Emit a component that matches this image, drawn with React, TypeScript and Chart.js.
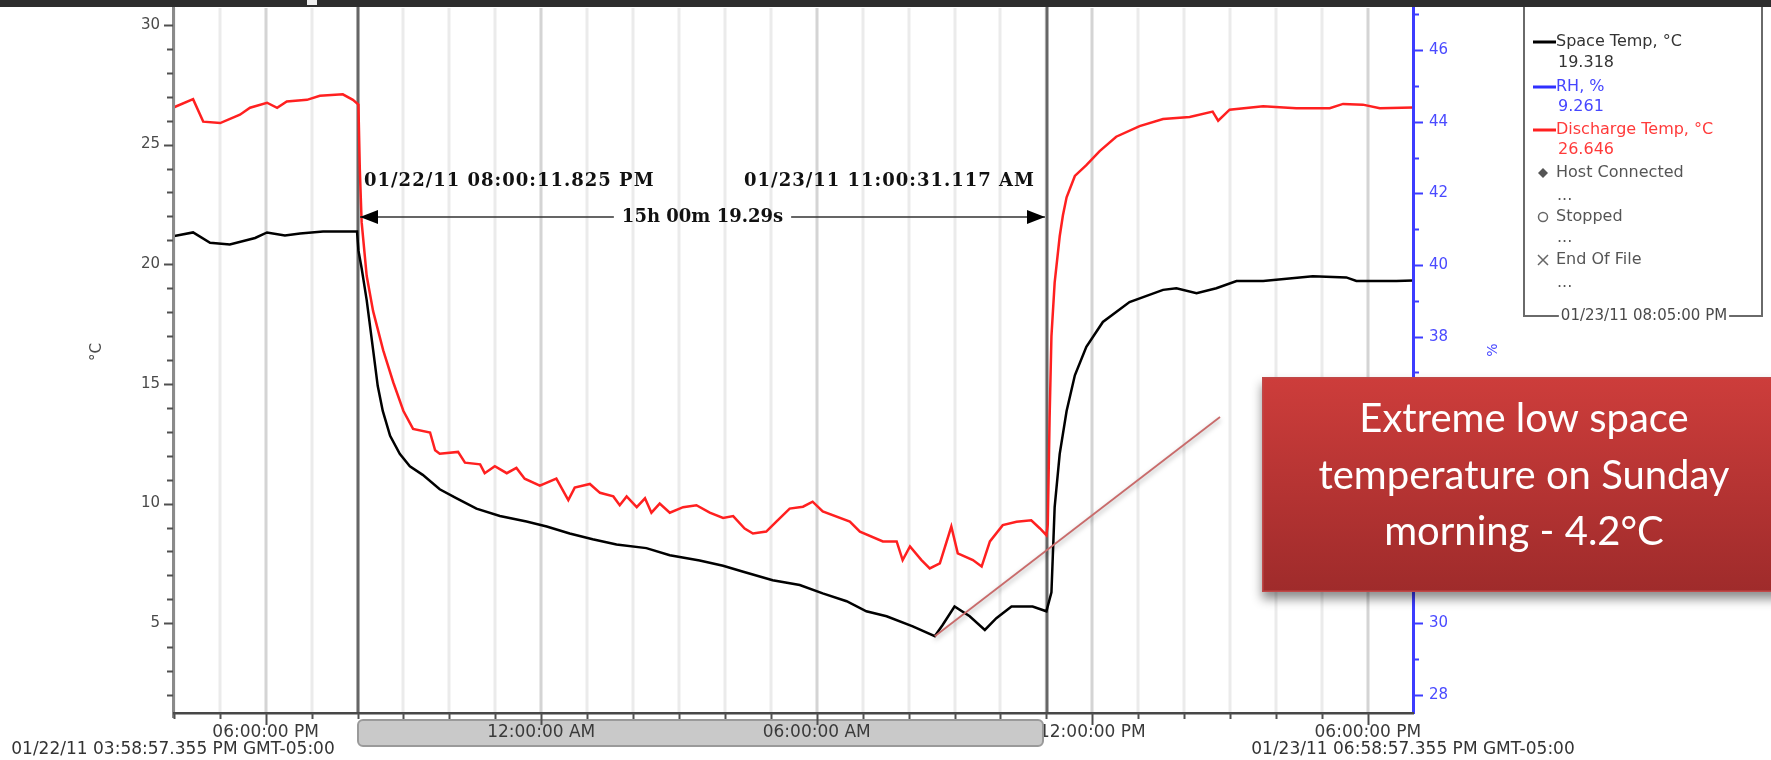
import React, { useEffect, useRef } from "react";
import { Chart, registerables } from "chart.js";

Chart.register(...registerables);

// ---- time axis (hours since 01/22/11 00:00) ----
const startHour = 15.9826; // 01/22/11 03:58:57.355 PM
const endHour = 42.9826; // 01/23/11 06:58:57.355 PM
const cursorHours = [20.0033, 35.0086];
const cursorLabels = ["01/22/11 08:00:11.825 PM", "01/23/11 11:00:31.117 AM"];
const spanLabel = "15h 00m 19.29s";
const startLabel = "01/22/11 03:58:57.355 PM GMT-05:00";
const endLabel = "01/23/11 06:58:57.355 PM GMT-05:00";
const xMajorHours = [18, 24, 30, 36, 42];
const xMajorLabels = ["06:00:00 PM", "12:00:00 AM", "06:00:00 AM", "12:00:00 PM", "06:00:00 PM"];

// ---- axes ----
const leftMin = 1.25;
const leftMax = 30.708;
const rightMin = 27.49;
const rightMax = 47.18;
const leftTicks = [5, 10, 15, 20, 25, 30];
const rightTicks = [28, 30, 32, 34, 36, 38, 40, 42, 44, 46];
const leftTitle = "°C";
const rightTitle = "%";

// ---- Space Temp, °C ----
const spaceTempHours = [
  15.98, 16.42, 16.79, 17.22, 17.77, 18.03, 18.42, 18.75, 19.25, 19.99,
  20.02, 20.09, 20.2, 20.34, 20.44, 20.55, 20.71, 20.92, 21.14, 21.42,
  21.79, 22.16, 22.59, 23.1, 23.68, 24.12, 24.62, 25.12, 25.64, 26.29,
  26.8, 27.45, 27.96, 28.4, 29.04, 29.63, 30.13, 30.65, 31.08, 31.52,
  32.09, 32.57, 32.74, 33.0, 33.33, 33.66, 33.91, 34.24, 34.7, 35.0,
  35.11, 35.18, 35.29, 35.44, 35.62, 35.87, 36.23, 36.81, 37.54, 37.83,
  38.27, 38.7, 39.14, 39.72, 40.8, 41.53, 41.75, 42.62, 42.98,
];
const spaceTempValues = [
  21.17, 21.33, 20.9, 20.83, 21.1, 21.33, 21.2, 21.29, 21.37, 21.37,
  20.58, 19.83, 18.5, 16.42, 14.92, 13.87, 12.83, 12.08, 11.56, 11.2,
  10.6, 10.22, 9.79, 9.48, 9.25, 9.04, 8.75, 8.51, 8.29, 8.14,
  7.84, 7.62, 7.4, 7.15, 6.8, 6.6, 6.25, 5.92, 5.5, 5.29,
  4.87, 4.46, 4.93, 5.7, 5.29, 4.72, 5.21, 5.7, 5.7, 5.5,
  6.29, 9.85, 12.08, 13.87, 15.36, 16.55, 17.59, 18.42, 18.93, 19.0,
  18.79, 19.0, 19.3, 19.3, 19.5, 19.45, 19.3, 19.3, 19.32,
];

// ---- Discharge Temp, °C ----
const dischargeHours = [
  15.98, 16.42, 16.64, 17.01, 17.44, 17.66, 18.03, 18.25, 18.46, 18.9,
  19.18, 19.68, 19.9, 20.02, 20.05, 20.09, 20.2, 20.34, 20.56, 20.78,
  21.0, 21.21, 21.58, 21.69, 21.79, 22.19, 22.34, 22.67, 22.77, 22.99,
  23.25, 23.46, 23.64, 23.97, 24.33, 24.59, 24.73, 25.06, 25.28, 25.57,
  25.71, 25.86, 26.08, 26.26, 26.4, 26.58, 26.8, 27.09, 27.38, 27.67,
  27.96, 28.18, 28.43, 28.61, 28.9, 29.12, 29.41, 29.7, 29.91, 30.13,
  30.72, 30.94, 31.44, 31.74, 31.87, 32.03, 32.28, 32.46, 32.68, 32.93,
  33.07, 33.4, 33.59, 33.77, 34.05, 34.35, 34.67, 34.86, 35.0, 35.03,
  35.07, 35.11, 35.18, 35.29, 35.36, 35.44, 35.62, 35.87, 36.16, 36.52,
  37.03, 37.54, 38.12, 38.62, 38.74, 38.99, 39.72, 40.44, 41.17, 41.46,
  41.89, 42.26, 42.98,
];
const dischargeValues = [
  26.54, 26.9, 25.96, 25.9, 26.25, 26.54, 26.75, 26.54, 26.8, 26.87,
  27.04, 27.1, 26.87, 26.67, 23.99, 21.76, 19.52, 18.04, 16.4, 15.06,
  13.87, 13.12, 12.97, 12.23, 12.08, 12.16, 11.71, 11.64, 11.27, 11.56,
  11.27, 11.49, 11.04, 10.75, 11.04, 10.15, 10.67, 10.82, 10.45, 10.3,
  9.93, 10.3, 9.85, 10.22, 9.62, 10.0, 9.62, 9.85, 9.93, 9.62,
  9.4, 9.48, 8.96, 8.75, 8.83, 9.25, 9.79, 9.87, 10.08, 9.67,
  9.25, 8.83, 8.42, 8.42, 7.64, 8.21, 7.64, 7.29, 7.5, 9.04,
  7.92, 7.64, 7.37, 8.42, 9.1, 9.24, 9.3, 8.96, 8.68, 9.12,
  13.58, 17.0, 19.23, 21.17, 22.05, 22.8, 23.69, 24.14, 24.73, 25.33,
  25.77, 26.07, 26.15, 26.38, 26.0, 26.46, 26.6, 26.52, 26.52, 26.7,
  26.67, 26.52, 26.55,
];

// ---- legend ----
const legendNames = ["Space Temp, °C", "RH, %", "Discharge Temp, °C"];
const legendValues = ["19.318", "9.261", "26.646"];
const legendColors = ["#000000", "#2f2fff", "#ff2020"];
const legendTextColors = ["#333333", "#4646ff", "#ff3a3a"];
const statusLabels = ["Host Connected", "Stopped", "End Of File"];
const legendTimestamp = "01/23/11 08:05:00 PM";

// ---- callout ----
const calloutLines = ["Extreme low space", "temperature on Sunday", "morning - 4.2°C"];
const calloutPointHour = 32.57;
const calloutPointValue = 4.46;

const FONT = "'DejaVu Sans', Verdana, sans-serif";

const drawPlugin = {
  id: "trendDecor",
  beforeDraw(chart: any) {
    const ctx = chart.ctx;
    ctx.save();
    ctx.fillStyle = "#ffffff";
    ctx.fillRect(0, 0, chart.width, chart.height);
    ctx.restore();
  },
  beforeDatasetsDraw(chart: any) {
    const ctx = chart.ctx;
    const a = chart.chartArea;
    const x = chart.scales.x;
    ctx.save();
    for (let hr = Math.ceil(startHour); hr <= endHour; hr++) {
      const px = Math.round(x.getPixelForValue(hr));
      const major = hr % 6 === 0;
      ctx.fillStyle = major ? "#d4d4d4" : "#ebebeb";
      ctx.fillRect(px - 1.5, a.top, 3, a.bottom - a.top);
    }
    cursorHours.forEach((h) => {
      const px = Math.round(x.getPixelForValue(h));
      ctx.fillStyle = "#666666";
      ctx.fillRect(px - 1.5, 7, 3, a.bottom - 7);
    });
    ctx.restore();
  },
  afterDatasetsDraw(chart: any) {
    const ctx = chart.ctx;
    const a = chart.chartArea;
    const x = chart.scales.x;
    const y = chart.scales.y;
    const y2 = chart.scales.y2;
    ctx.save();

    // ---- left axis ----
    ctx.fillStyle = "#8a8a8a";
    ctx.fillRect(a.left - 1, 7, 3, a.bottom - 7 + 5);
    ctx.strokeStyle = "#505050";
    ctx.lineWidth = 2;
    for (let v = Math.ceil(leftMin); v <= leftMax; v++) {
      const py = Math.round(y.getPixelForValue(v)) + 0.5;
      const major = v % 5 === 0;
      ctx.beginPath();
      ctx.moveTo(a.left - (major ? 9 : 6), py);
      ctx.lineTo(a.left, py);
      ctx.stroke();
    }
    ctx.fillStyle = "#4a4a4a";
    ctx.font = `15px ${FONT}`;
    ctx.textAlign = "right";
    ctx.textBaseline = "middle";
    leftTicks.forEach((v) => ctx.fillText(String(v), a.left - 13, y.getPixelForValue(v)));
    ctx.save();
    ctx.translate(97, 352);
    ctx.rotate(-Math.PI / 2);
    ctx.textAlign = "center";
    ctx.fillText(leftTitle, 0, 0);
    ctx.restore();

    // ---- right axis ----
    ctx.fillStyle = "#3c3cff";
    ctx.fillRect(a.right - 1, 7, 3, a.bottom - 7 + 1);
    ctx.strokeStyle = "#3c3cff";
    for (let v = Math.ceil(rightMin); v <= rightMax; v++) {
      const py = Math.round(y2.getPixelForValue(v)) + 0.5;
      const major = v % 2 === 0;
      ctx.beginPath();
      ctx.moveTo(a.right, py);
      ctx.lineTo(a.right + (major ? 10 : 6), py);
      ctx.stroke();
    }
    ctx.fillStyle = "#4a4aff";
    ctx.textAlign = "left";
    rightTicks.forEach((v) => ctx.fillText(String(v), a.right + 16, y2.getPixelForValue(v)));
    ctx.save();
    ctx.translate(1493, 350);
    ctx.rotate(-Math.PI / 2);
    ctx.textAlign = "center";
    ctx.font = `14px ${FONT}`;
    ctx.fillText(rightTitle, 0, 0);
    ctx.restore();

    // ---- bottom axis ----
    ctx.fillStyle = "#474747";
    ctx.fillRect(a.left, a.bottom - 1, a.right - a.left + 1, 2.5);

    // x labels (first pass)
    const c1 = Math.round(x.getPixelForValue(cursorHours[0]));
    const c2 = Math.round(x.getPixelForValue(cursorHours[1]));
    ctx.font = `17px ${FONT}`;
    ctx.textAlign = "center";
    ctx.fillStyle = "#3a3a3a";
    xMajorHours.forEach((h, i) => ctx.fillText(xMajorLabels[i], x.getPixelForValue(h), 733));

    // scroll bar between cursors
    const bx = c1, bw = c2 - 4 - c1, by = 720, bh = 26;
    ctx.beginPath();
    ctx.roundRect(bx, by, bw, bh, 5);
    ctx.fillStyle = "#c9c9c9";
    ctx.fill();
    ctx.lineWidth = 2;
    ctx.strokeStyle = "#9a9a9a";
    ctx.stroke();

    // labels inside the bar on top
    ctx.fillStyle = "#3a3a3a";
    xMajorHours.forEach((h, i) => {
      const px = x.getPixelForValue(h);
      if (px > bx && px < bx + bw) ctx.fillText(xMajorLabels[i], px, 733);
    });

    // x ticks
    ctx.strokeStyle = "#505050";
    ctx.lineWidth = 2;
    for (let hr = Math.ceil(startHour); hr <= endHour; hr++) {
      const px = Math.round(x.getPixelForValue(hr)) + 0.5;
      const major = hr % 6 === 0;
      ctx.beginPath();
      ctx.moveTo(px, a.bottom);
      ctx.lineTo(px, a.bottom + (major ? 12 : 6));
      ctx.stroke();
    }

    // range labels
    ctx.fillStyle = "#333333";
    ctx.fillText(startLabel, x.getPixelForValue(startHour), 750);
    ctx.fillText(endLabel, x.getPixelForValue(endHour), 750);

    // ---- cursor annotation ----
    ctx.fillStyle = "#111111";
    ctx.font = `bold 18px 'DejaVu Serif', serif`;
    (ctx as any).letterSpacing = "1px";
    ctx.textAlign = "left";
    ctx.fillText(cursorLabels[0], c1 + 6, 181);
    ctx.textAlign = "right";
    ctx.fillText(cursorLabels[1], c2 - 12, 181);
    (ctx as any).letterSpacing = "0px";
    const ay = 217;
    const mid = (c1 + c2) / 2;
    ctx.textAlign = "center";
    const tw = ctx.measureText(spanLabel).width;
    ctx.fillText(spanLabel, mid, ay);
    ctx.strokeStyle = "#333333";
    ctx.lineWidth = 1.5;
    ctx.beginPath();
    ctx.moveTo(c1 + 2, ay);
    ctx.lineTo(mid - tw / 2 - 8, ay);
    ctx.moveTo(mid + tw / 2 + 8, ay);
    ctx.lineTo(c2 - 2, ay);
    ctx.stroke();
    ctx.fillStyle = "#000000";
    ctx.beginPath();
    ctx.moveTo(c1 + 2, ay);
    ctx.lineTo(c1 + 20, ay - 7);
    ctx.lineTo(c1 + 20, ay + 7);
    ctx.closePath();
    ctx.fill();
    ctx.beginPath();
    ctx.moveTo(c2 - 2, ay);
    ctx.lineTo(c2 - 20, ay - 7);
    ctx.lineTo(c2 - 20, ay + 7);
    ctx.closePath();
    ctx.fill();

    // ---- legend box ----
    const lx = 1524, rx = 1762, ly = 316;
    ctx.strokeStyle = "#6a6a6a";
    ctx.lineWidth = 2;
    ctx.font = `15px ${FONT}`;
    ctx.textAlign = "center";
    const tsw = ctx.measureText(legendTimestamp).width;
    const tcx = (lx + rx) / 2 + 1;
    ctx.beginPath();
    ctx.moveTo(lx, 7);
    ctx.lineTo(lx, ly);
    ctx.lineTo(tcx - tsw / 2 - 2, ly);
    ctx.moveTo(tcx + tsw / 2 + 2, ly);
    ctx.lineTo(rx, ly);
    ctx.lineTo(rx, 7);
    ctx.stroke();
    ctx.fillStyle = "#4a4a4a";
    ctx.fillText(legendTimestamp, tcx, ly);

    ctx.font = `16px ${FONT}`;
    const nameY = [42, 87, 130];
    const valY = [63, 107, 150];
    ctx.textAlign = "left";
    legendNames.forEach((n, i) => {
      ctx.fillStyle = legendColors[i];
      ctx.fillRect(1533, nameY[i] - 1.5, 23, 3);
      ctx.fillStyle = legendTextColors[i];
      ctx.fillText(n, 1556, nameY[i]);
      ctx.fillText(legendValues[i], 1558, valY[i]);
    });
    const stY = [173, 217, 260];
    const dotY = [200, 242, 287];
    ctx.fillStyle = "#555555";
    statusLabels.forEach((s, i) => ctx.fillText(s, 1556, stY[i]));
    ctx.textBaseline = "alphabetic";
    dotY.forEach((d) => ctx.fillText("...", 1557, d));
    ctx.textBaseline = "middle";
    // symbols
    ctx.beginPath();
    ctx.moveTo(1543, stY[0] - 5);
    ctx.lineTo(1548, stY[0]);
    ctx.lineTo(1543, stY[0] + 5);
    ctx.lineTo(1538, stY[0]);
    ctx.closePath();
    ctx.fill();
    ctx.strokeStyle = "#666666";
    ctx.lineWidth = 1.5;
    ctx.beginPath();
    ctx.arc(1543, stY[1], 4.5, 0, Math.PI * 2);
    ctx.stroke();
    ctx.beginPath();
    ctx.moveTo(1538, stY[2] - 5);
    ctx.lineTo(1548, stY[2] + 5);
    ctx.moveTo(1548, stY[2] - 5);
    ctx.lineTo(1538, stY[2] + 5);
    ctx.stroke();

    // ---- callout pointer ----
    const p0x = x.getPixelForValue(calloutPointHour);
    const p0y = y.getPixelForValue(calloutPointValue);
    ctx.save();
    ctx.shadowColor = "rgba(0,0,0,0.35)";
    ctx.shadowBlur = 5;
    ctx.shadowOffsetY = 3;
    ctx.strokeStyle = "#c96b6b";
    ctx.lineWidth = 1.8;
    ctx.beginPath();
    ctx.moveTo(p0x, p0y);
    ctx.lineTo(1220, 417);
    ctx.stroke();
    ctx.restore();

    // ---- callout box ----
    const bxl = 1262, btop = 377, bbot = 592;
    ctx.save();
    ctx.shadowColor = "rgba(0,0,0,0.45)";
    ctx.shadowBlur = 10;
    ctx.shadowOffsetY = 7;
    const g = ctx.createLinearGradient(0, btop, 0, bbot);
    g.addColorStop(0, "#cd3d3b");
    g.addColorStop(1, "#9f2b2b");
    ctx.fillStyle = g;
    ctx.fillRect(bxl, btop, 1771 - bxl + 20, bbot - btop);
    ctx.restore();
    ctx.strokeStyle = "#c04848";
    ctx.lineWidth = 1.5;
    ctx.strokeRect(bxl + 0.75, btop + 0.75, 1771 - bxl + 20, bbot - btop - 1.5);
    ctx.fillStyle = "#ffffff";
    ctx.font = `40px Lato, 'Open Sans', sans-serif`;
    ctx.textAlign = "center";
    ctx.textBaseline = "alphabetic";
    const baseY = [432, 489, 545];
    calloutLines.forEach((l, i) => ctx.fillText(l, 1524, baseY[i]));

    // ---- top band ----
    ctx.fillStyle = "#2d2d2d";
    ctx.fillRect(0, 0, chart.width, 7);
    ctx.fillStyle = "#efefef";
    ctx.fillRect(307, 0, 10, 5);

    ctx.restore();
  },
};

export default function App() {
  const ref = useRef<HTMLCanvasElement | null>(null);
  useEffect(() => {
    if (!ref.current) return;
    const chart = new Chart(ref.current, {
      type: "line",
      data: {
        datasets: [
          {
            label: legendNames[0],
            data: spaceTempHours.map((h, i) => ({ x: h, y: spaceTempValues[i] })),
            borderColor: legendColors[0],
            borderWidth: 2.5,
            pointRadius: 0,
            tension: 0,
            yAxisID: "y",
          },
          {
            label: legendNames[1],
            data: [],
            borderColor: legendColors[1],
            borderWidth: 2.5,
            pointRadius: 0,
            yAxisID: "y2",
          },
          {
            label: legendNames[2],
            data: dischargeHours.map((h, i) => ({ x: h, y: dischargeValues[i] })),
            borderColor: legendColors[2],
            borderWidth: 2.5,
            pointRadius: 0,
            tension: 0,
            yAxisID: "y",
          },
        ],
      },
      options: {
        animation: false,
        responsive: false,
        devicePixelRatio: 1,
        layout: { padding: { left: 173, right: 358, top: 8, bottom: 47 } },
        plugins: { legend: { display: false }, tooltip: { enabled: false } },
        scales: {
          x: { type: "linear", min: startHour, max: endHour, display: false },
          y: { type: "linear", min: leftMin, max: leftMax, display: false },
          y2: { type: "linear", min: rightMin, max: rightMax, display: false, position: "right" },
        },
      },
      plugins: [drawPlugin],
    } as any);
    return () => chart.destroy();
  }, []);
  return (
    <div style={{ position: "absolute", left: 0, top: 0, width: 1771, height: 760 }}>
      <canvas ref={ref} width={1771} height={760} style={{ display: "block" }} />
    </div>
  );
}
